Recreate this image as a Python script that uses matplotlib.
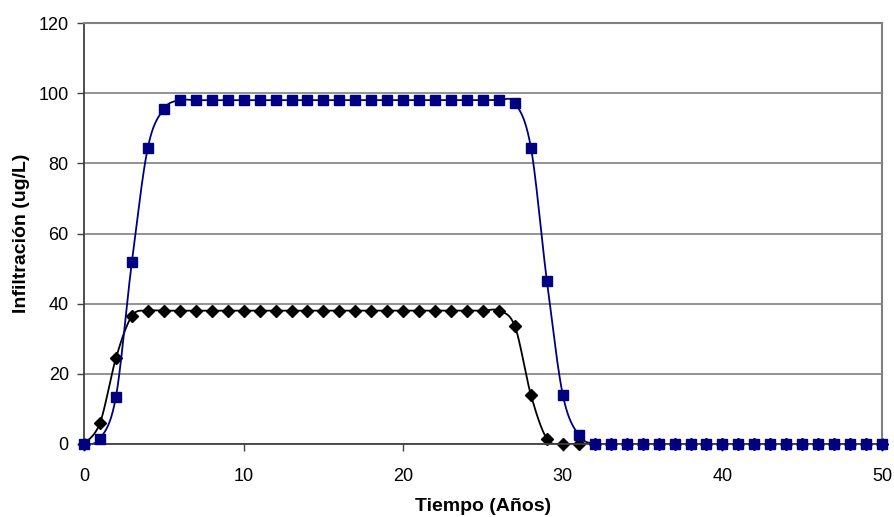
import numpy as np
import matplotlib
matplotlib.use('Agg')
import matplotlib.pyplot as plt

plt.rcParams['font.family'] = ['Liberation Sans', 'DejaVu Sans']

years = list(range(0, 51))

# black diamonds
serie_negra = [0, 6, 24.5, 36.5, 38, 38, 38, 38, 38, 38,
               38, 38, 38, 38, 38, 38, 38, 38, 38, 38,
               38, 38, 38, 38, 38, 38, 38, 33.5, 14, 1.5,
               0, 0, 0, 0, 0, 0, 0, 0, 0, 0,
               0, 0, 0, 0, 0, 0, 0, 0, 0, 0, 0]

# blue squares
serie_azul = [0, 1.5, 13.5, 52, 84.5, 95.5, 98, 98, 98, 98,
              98, 98, 98, 98, 98, 98, 98, 98, 98, 98,
              98, 98, 98, 98, 98, 98, 98, 97.2, 84.5, 46.5,
              14, 2.5, 0, 0, 0, 0, 0, 0, 0, 0,
              0, 0, 0, 0, 0, 0, 0, 0, 0, 0, 0]


def smooth(x, y, n=20):
    """Catmull-Rom curve through the points, like Excel smoothed lines"""
    x = np.asarray(x, float)
    y = np.asarray(y, float)
    px = np.concatenate([[x[0]], x, [x[-1]]])
    py = np.concatenate([[y[0]], y, [y[-1]]])
    xs, ys = [], []
    t = np.linspace(0, 1, n, endpoint=False)
    for i in range(1, len(px) - 2):
        p0, p1, p2, p3 = py[i - 1], py[i], py[i + 1], py[i + 2]
        q0, q1, q2, q3 = px[i - 1], px[i], px[i + 1], px[i + 2]
        # bezier control points with tension 1/6
        c1y = p1 + (p2 - p0) / 6
        c2y = p2 - (p3 - p1) / 6
        c1x = q1 + (q2 - q0) / 6
        c2x = q2 - (q3 - q1) / 6
        b0 = (1 - t) ** 3
        b1 = 3 * (1 - t) ** 2 * t
        b2 = 3 * (1 - t) * t ** 2
        b3 = t ** 3
        xs.append(b0 * q1 + b1 * c1x + b2 * c2x + b3 * q2)
        ys.append(b0 * p1 + b1 * c1y + b2 * c2y + b3 * p2)
    xs.append([x[-1]])
    ys.append([y[-1]])
    return np.concatenate(xs), np.concatenate(ys)


fig = plt.figure(figsize=(8.95, 5.17), dpi=100)
ax = fig.add_axes([0.0939, 0.1412, 0.8916, 0.8143])

sx, sy = smooth(years, serie_negra)
ax.plot(sx, sy, color='black', lw=1.3, zorder=3)
ax.plot(years, serie_negra, ls='none', marker='D', ms=6, color='black',
        zorder=4, clip_on=False)

sx, sy = smooth(years, serie_azul)
ax.plot(sx, sy, color='#000080', lw=1.3, zorder=5)
ax.plot(years, serie_azul, ls='none', marker='s', ms=7.5, color='#000080',
        zorder=8, clip_on=False)

ax.set_xlim(0, 50)
ax.set_ylim(0, 120)
ax.set_xticks(range(0, 51, 10))
ax.set_yticks(range(0, 121, 20))
ax.yaxis.grid(True, color='#808080', lw=1.2)
ax.set_axisbelow(True)

for s in ['top', 'right']:
    ax.spines[s].set_color('#808080')
    ax.spines[s].set_linewidth(1.5)
for s in ['left', 'bottom']:
    ax.spines[s].set_color('#404040')
    ax.spines[s].set_linewidth(1.3)
for sp in ax.spines.values():
    sp.set_zorder(7)

ax.tick_params(direction='out', length=5, width=1, color='#404040', labelsize=13)
ax.tick_params(axis='x', pad=12)
ax.tick_params(axis='y', pad=6)

ax.set_xlabel('Tiempo (Años)', fontsize=14, fontweight='bold', va='center')
ax.xaxis.set_label_coords(0.5, -0.149)
ax.set_ylabel('Infiltración (ug/L)', fontsize=14, fontweight='bold', va='center')
ax.yaxis.set_label_coords(-0.078, 0.5)

fig.savefig('out.png', dpi=100)
